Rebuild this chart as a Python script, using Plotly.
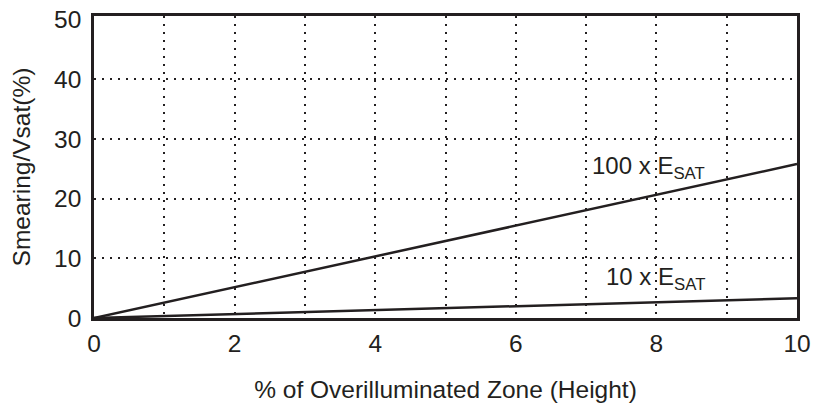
import plotly.graph_objects as go

x_vals = [0, 10]
y_100x = [0, 25.8]
y_10x = [0, 3.3]
y_ticks = [0, 10, 20, 30, 40, 50]
y_grid = [10, 20, 30, 40]

FONT = "Liberation Sans, Arial, Helvetica, sans-serif"
INK = "#231f20"

fig = go.Figure()
fig.add_trace(go.Scatter(x=x_vals, y=y_100x, mode="lines",
                         line=dict(color=INK, width=2.5), showlegend=False))
fig.add_trace(go.Scatter(x=x_vals, y=y_10x, mode="lines",
                         line=dict(color=INK, width=2.5), showlegend=False))

fig.add_annotation(x=7.05, y=25.3, xref="x", yref="y", text="100 x E<sub>SAT</sub>",
                   showarrow=False, xanchor="left", yanchor="middle",
                   font=dict(size=24, color=INK, family=FONT))
fig.add_annotation(x=7.25, y=6.6, xref="x", yref="y", text="10 x E<sub>SAT</sub>",
                   showarrow=False, xanchor="left", yanchor="middle",
                   font=dict(size=24, color=INK, family=FONT))

dot = "2px,6px"

fig.update_xaxes(range=[0, 10], dtick=2, tick0=0, automargin=False,
                 showgrid=True, gridcolor=INK, gridwidth=2, griddash=dot,
                 minor=dict(dtick=1, showgrid=True, gridcolor=INK, gridwidth=2,
                            griddash=dot, ticks=""),
                 showline=True, linecolor=INK, linewidth=2.5, mirror=True,
                 zeroline=False, ticks="", ticklabelstandoff=2,
                 title=dict(text="% of Overilluminated Zone (Height)", standoff=25,
                            font=dict(size=24.5, color=INK, family=FONT)),
                 tickfont=dict(size=24.5, color=INK, family=FONT))
fig.update_yaxes(range=[0, 50.6], tickvals=y_ticks, automargin=False,
                 showgrid=False,
                 minor=dict(tickmode="array", tickvals=y_grid, showgrid=True,
                            gridcolor=INK, gridwidth=2, griddash=dot, ticks=""),
                 showline=True, linecolor=INK, linewidth=2.5, mirror=True,
                 zeroline=False, ticks="", ticklabelstandoff=5,
                 title=dict(text="Smearing/Vsat(%)", standoff=17,
                            font=dict(size=24.5, color=INK, family=FONT)),
                 tickfont=dict(size=24.5, color=INK, family=FONT))

fig.update_layout(width=822, height=408, margin=dict(l=94, r=25, t=16, b=90),
                  plot_bgcolor="white", paper_bgcolor="white",
                  font=dict(family=FONT, color=INK))

fig.write_html("out.html", config={"displayModeBar": False},
               post_script="document.body.style.margin='0';document.body.style.overflow='hidden';")
